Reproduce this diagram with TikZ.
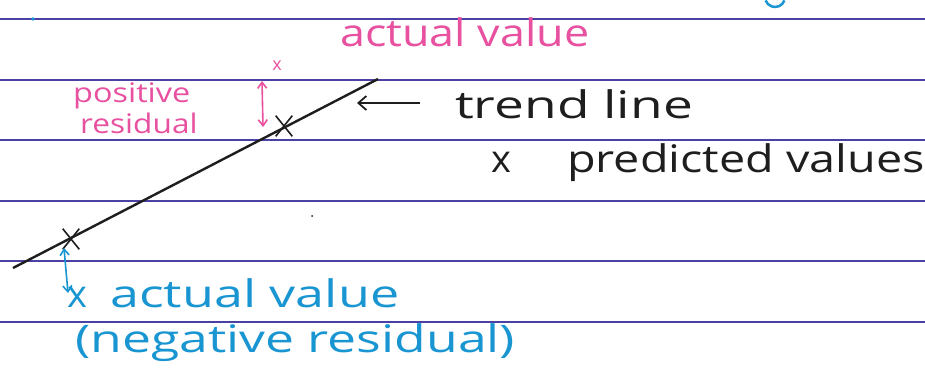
\documentclass[tikz,border=0pt]{standalone}
\usepackage{fontspec}
\setmainfont{Open Sans}
\usetikzlibrary{arrows.meta,shapes.misc}
\definecolor{ruleblue}{RGB}{75,65,165}
\definecolor{pinkink}{RGB}{232,80,160}
\definecolor{blueink}{RGB}{25,150,210}
\definecolor{blackink}{RGB}{30,30,30}
\newcommand\handstretch[2]{\scalebox{#1}[1]{#2}}
\begin{document}
\begin{tikzpicture}[x=1pt,y=-1pt,
  ruling/.style={ruleblue, line width=1.6pt},
  hand/.style={inner sep=0pt, anchor=base west, font=\fontsize{38}{40}\selectfont},
  smallhand/.style={inner sep=0pt, anchor=base west, font=\fontsize{27}{28}\selectfont},
  crossmark/.style={draw=blackink, cross out, line width=1.6pt, minimum width=15pt, minimum height=19pt, inner sep=0pt},
  barbs/.style={line width=1.6pt, {Straight Barb[length=6pt,width=9pt]}-{Straight Barb[length=6pt,width=9pt]}},
  onebarb/.style={line width=1.8pt, -{Straight Barb[length=8pt,width=14pt]}}]
\useasboundingbox (0,0) rectangle (925,374);
\fill[white] (0,0) rectangle (925,374);
% ruled paper
\foreach \yy in {19,80,140,201,261,322} \draw[ruling] (0,\yy) -- (925,\yy);
% stray marks
\draw[blueink, line width=2.5pt] (775,-3) ++(20:10) arc[start angle=20, end angle=160, radius=10];
\fill[blueink] (33,19) circle (1.8pt);
\fill[blackink] (312,216) circle (1pt);
% trend line
\coordinate (l0) at (13,268);
\coordinate (l1) at (378,79);
\draw[blackink, line width=2.4pt] (l0) -- (l1);
% predicted points
\node[crossmark] (pup) at (284,126) {};
\node[crossmark] (plo) at (71,239) {};
% positive residual (pink)
\node[hand, pinkink] (av1) at (340,47) {\handstretch{1.18}{actual value}};
\node[inner sep=0pt, pinkink, font=\fontsize{18}{18}\selectfont] (pax) at (277,66) {x};
\coordinate (pr1) at (262,81);
\coordinate (pr2) at (263,127);
\draw[pinkink, barbs] (pr1) -- (pr2);
\node[smallhand, pinkink] (pos) at (73,103) {\handstretch{1.2}{positive}};
\node[smallhand, pinkink] (res) at (80,134) {\handstretch{1.17}{residual}};
% trend line label
\coordinate (ta) at (420,103);
\coordinate (tb) at (357,103);
\draw[blackink, onebarb] (ta) -- (tb);
\node[hand, blackink] (tl) at (455,119) {\handstretch{1.4}{trend line}};
\node[hand, blackink] (px) at (491,172) {x};
\node[hand, blackink] (pv) at (567,172) {\handstretch{1.23}{predicted values}};
% negative residual (blue)
\coordinate (nr1) at (64,248);
\coordinate (nr2) at (68,293);
\draw[blueink, barbs] (nr1) -- (nr2);
\node[hand, blueink] (bx) at (67,307) {x};
\node[hand, blueink] (av2) at (110,307) {\handstretch{1.37}{actual value}};
\node[hand, blueink] (neg) at (75,352) {\handstretch{1.36}{(negative residual)}};
\end{tikzpicture}
\end{document}
